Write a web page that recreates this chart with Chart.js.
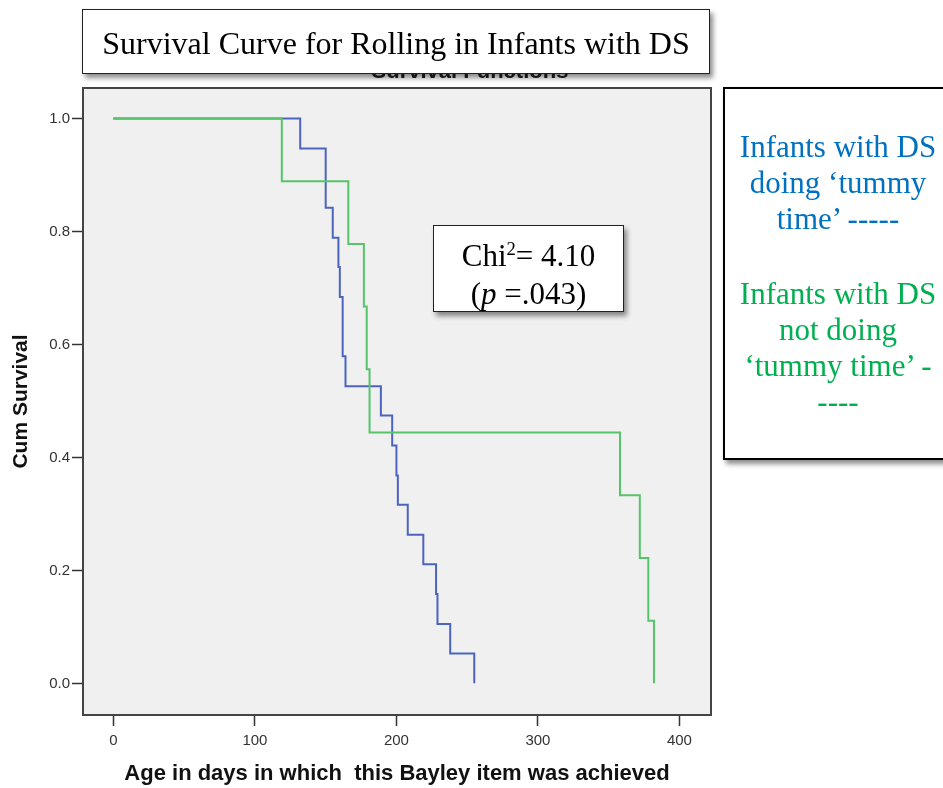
<!DOCTYPE html>
<html>

<head>
  <meta charset="UTF-8">
  <title>Survival Curve for Rolling in Infants with DS</title>
  <script src="https://cdn.jsdelivr.net/npm/chart.js"></script>
  <style>
    body {
      margin: 0;
      padding: 0;
      background-color: white;
      overflow: hidden;
    }

    #page {
      position: relative;
      width: 943px;
      height: 788px;
      overflow: hidden;
    }

    #chart-container {
      position: absolute;
      left: 0;
      top: 0;
      width: 943px;
      height: 788px;
    }

    .box {
      position: absolute;
      box-sizing: border-box;
      background-color: white;
      font-family: "Liberation Serif", "Times New Roman", serif;
      text-align: center;
      box-shadow: 3px 4px 5px rgba(0, 0, 0, 0.45);
    }

    #title-box {
      left: 82px;
      top: 9px;
      width: 628px;
      height: 65px;
      border: 1.5px solid #222;
      font-size: 32px;
      line-height: 60px;
      padding-top: 3px;
    }

    #chi-box {
      left: 433px;
      top: 225px;
      width: 191px;
      height: 87px;
      border: 1px solid #222;
      font-size: 31px;
      line-height: 38px;
      padding-top: 11px;
    }

    #chi-box sup {
      font-size: 0.6em;
      line-height: 0;
    }

    #legend-box {
      left: 723px;
      top: 87px;
      width: 230px;
      height: 373px;
      border: 2.5px solid #000;
      font-size: 31px;
      line-height: 36px;
      padding-top: 40px;
    }

    .blue {
      color: #0070C0;
    }

    .green {
      color: #00B050;
      margin-top: 39px;
    }
  </style>
</head>

<body>
  <div id="page">
    <div id="chart-container">
      <canvas id="survivalChart"></canvas>
    </div>

    <div class="box" id="title-box">Survival Curve for Rolling in Infants with DS</div>

    <div class="box" id="chi-box">Chi<sup>2</sup>= 4.10<br>(<i>p</i> =.043)</div>

    <div class="box" id="legend-box">
      <div class="blue">Infants with DS<br>doing ‘tummy<br>time’ -----</div>
      <div class="green">Infants with DS<br>not doing<br>‘tummy time’ -<br>----</div>
    </div>
  </div>

  <script>
    // data (days, cumulative survival)
    var tummyDays = [0, 132, 150, 155, 159, 160, 162, 164, 189, 197, 200, 201, 208, 219, 228, 229, 238, 255];
    var tummySurv = [1.0, 0.947, 0.842, 0.789, 0.737, 0.684, 0.579, 0.526, 0.474, 0.421, 0.368, 0.316, 0.263, 0.211, 0.158, 0.105, 0.053, 0.0];

    var noTummyDays = [0, 119, 166, 177, 179, 181, 358, 372, 378, 382];
    var noTummySurv = [1.0, 0.889, 0.778, 0.667, 0.556, 0.444, 0.333, 0.222, 0.111, 0.0];

    var xTicks = [0, 100, 200, 300, 400];
    var yTicks = [0.0, 0.2, 0.4, 0.6, 0.8, 1.0];

    function toPoints(days, surv) {
      return days.map(function (d, i) {
        return { x: d, y: surv[i] };
      });
    }

    // grey plot frame + the SPSS title hidden under the text box
    var plotFrame = {
      id: 'plotFrame',
      beforeDraw: function (chart) {
        var a = chart.chartArea;
        var ctx = chart.ctx;
        ctx.save();
        ctx.fillStyle = '#f0f0f0';
        ctx.fillRect(a.left, a.top, a.right - a.left, a.bottom - a.top);
        ctx.font = 'bold 22px "Liberation Sans", Arial, sans-serif';
        ctx.fillStyle = '#222';
        ctx.textAlign = 'center';
        ctx.textBaseline = 'alphabetic';
        ctx.fillText('Survival Functions', 470, 78);
        ctx.restore();
      },
      afterDraw: function (chart) {
        var a = chart.chartArea;
        var ctx = chart.ctx;
        ctx.save();
        ctx.strokeStyle = '#444';
        ctx.lineWidth = 2;
        ctx.strokeRect(a.left, a.top, a.right - a.left, a.bottom - a.top);
        ctx.restore();
      }
    };

    var ctx = document.getElementById('survivalChart').getContext('2d');
    var survivalChart = new Chart(ctx, {
      type: 'line',
      data: {
        datasets: [
          {
            label: 'Infants with DS doing tummy time',
            data: toPoints(tummyDays, tummySurv),
            borderColor: '#4c64c0',
            borderWidth: 2,
            stepped: true,
            pointRadius: 0,
            fill: false,
            order: 1
          },
          {
            label: 'Infants with DS not doing tummy time',
            data: toPoints(noTummyDays, noTummySurv),
            borderColor: '#55c46a',
            borderWidth: 2,
            stepped: true,
            pointRadius: 0,
            fill: false,
            order: 0
          }
        ]
      },
      options: {
        responsive: true,
        maintainAspectRatio: false,
        animation: false,
        devicePixelRatio: 1,
        layout: {
          padding: { top: 88, right: 232, left: 0, bottom: 0 }
        },
        plugins: {
          legend: { display: false },
          tooltip: { enabled: false },
          title: { display: false }
        },
        scales: {
          x: {
            type: 'linear',
            min: -21.5,
            max: 422.3,
            afterBuildTicks: function (axis) {
              axis.ticks = xTicks.map(function (v) { return { value: v }; });
            },
            afterFit: function (axis) {
              axis.height = 73;
            },
            grid: {
              drawOnChartArea: false,
              tickLength: 11,
              tickColor: '#333',
              tickWidth: 1.5
            },
            border: { display: false },
            ticks: {
              color: '#333',
              padding: 6,
              maxRotation: 0,
              font: { family: '"Liberation Sans", Arial, sans-serif', size: 15 }
            },
            title: {
              display: true,
              text: 'Age in days in which  this Bayley item was achieved',
              color: '#111',
              padding: { top: 0, bottom: 1 },
              font: { family: '"Liberation Sans", Arial, sans-serif', size: 22, weight: 'bold' }
            }
          },
          y: {
            type: 'linear',
            min: -0.056,
            max: 1.054,
            afterBuildTicks: function (axis) {
              axis.ticks = yTicks.map(function (v) { return { value: v }; });
            },
            afterFit: function (axis) {
              axis.width = 83;
            },
            grid: {
              drawOnChartArea: false,
              tickLength: 11,
              tickColor: '#333',
              tickWidth: 1.5
            },
            border: { display: false },
            ticks: {
              color: '#333',
              padding: 2,
              font: { family: '"Liberation Sans", Arial, sans-serif', size: 15 },
              callback: function (value) {
                return Number(value).toFixed(1);
              }
            },
            title: {
              display: true,
              text: 'Cum Survival',
              color: '#111',
              padding: { top: 9, bottom: 0 },
              font: { family: '"Liberation Sans", Arial, sans-serif', size: 21, weight: 'bold' }
            }
          }
        }
      },
      plugins: [plotFrame]
    });
  </script>
</body>

</html>
